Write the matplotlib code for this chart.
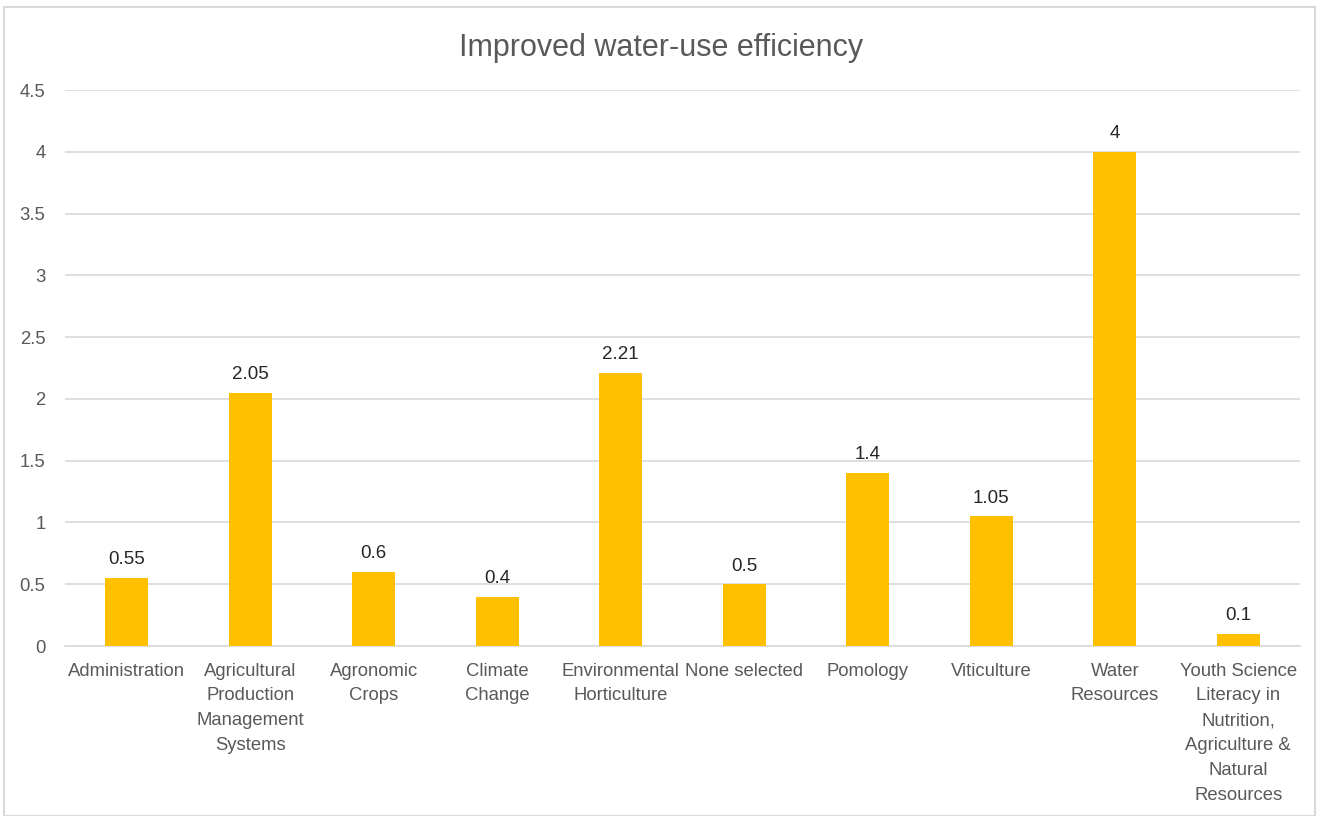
import matplotlib
matplotlib.use('Agg')
import matplotlib.pyplot as plt
from matplotlib.patches import Rectangle

# 데이터
categories = [
    "Administration",
    "Agricultural\nProduction\nManagement\nSystems",
    "Agronomic\nCrops",
    "Climate\nChange",
    "Environmental\nHorticulture",
    "None selected",
    "Pomology",
    "Viticulture",
    "Water\nResources",
    "Youth Science\nLiteracy in\nNutrition,\nAgriculture &\nNatural\nResources",
]
values = [0.55, 2.05, 0.6, 0.4, 2.21, 0.5, 1.4, 1.05, 4, 0.1]
value_labels = ["0.55", "2.05", "0.6", "0.4", "2.21", "0.5", "1.4", "1.05", "4", "0.1"]
y_ticks = [0, 0.5, 1, 1.5, 2, 2.5, 3, 3.5, 4, 4.5]
y_tick_labels = ["0", "0.5", "1", "1.5", "2", "2.5", "3", "3.5", "4", "4.5"]

plt.rcParams['font.family'] = ['Liberation Sans', 'DejaVu Sans']

fig = plt.figure(figsize=(13.19, 8.16), dpi=100)
ax = fig.add_axes([0.0493, 0.2083, 0.9363, 0.6814])

x = list(range(len(categories)))
ax.bar(x, values, width=0.35, color='#FFC000', zorder=3)

for xi, v, lab in zip(x, values, value_labels):
    ax.annotate(lab, (xi, v), xytext=(0, 7), textcoords='offset points',
                ha='center', va='bottom', fontsize=13.5, color='#262626')

ax.set_xlim(-0.5, len(categories) - 0.5)
ax.set_ylim(0, 4.5)
ax.set_yticks(y_ticks)
ax.set_yticklabels(y_tick_labels)
ax.set_xticks(x)
ax.set_xticklabels(categories, linespacing=1.6)

ax.grid(axis='y', color='#D9D9D9', linewidth=1.2, zorder=0)
for s in ['top', 'right', 'left']:
    ax.spines[s].set_visible(False)
ax.spines['bottom'].set_color('#D9D9D9')
ax.spines['bottom'].set_linewidth(1.2)
ax.tick_params(axis='both', length=0, labelsize=13.3, colors='#595959')
ax.tick_params(axis='x', pad=12)
ax.tick_params(axis='y', pad=14)

fig.text(0.501, 0.941, "Improved water-use efficiency", ha='center', va='center',
         fontsize=22, color='#595959')

# 바깥 테두리
fig.patches.append(Rectangle((0.003, 0.0), 0.994, 0.992, transform=fig.transFigure,
                             fill=False, edgecolor='#D9D9D9', linewidth=1.5))

fig.savefig("out.png", dpi=100)
